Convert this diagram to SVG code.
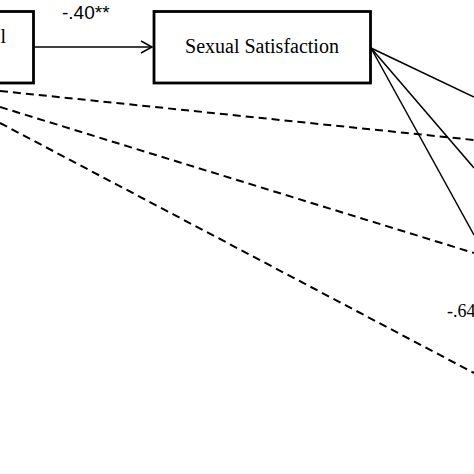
<svg xmlns="http://www.w3.org/2000/svg" width="474" height="474" viewBox="0 0 474 474">
<style>
.box{fill:#fff;stroke:#000;stroke-width:2.8}
.serif{font-family:"Liberation Serif","Times New Roman",serif;fill:#000}
.sans{font-family:"Liberation Sans",Arial,sans-serif;fill:#000}
.solid{stroke:#000;stroke-width:1.5;fill:none}
.dash{stroke:#000;stroke-width:2;fill:none;stroke-dasharray:8,5}
</style>
<defs>
<marker id="open" viewBox="0 0 14 14" refX="12" refY="7" markerWidth="14" markerHeight="14" markerUnits="userSpaceOnUse" orient="auto">
<path d="M1,1 L12,7 L1,13" fill="none" stroke="#000" stroke-width="1.5"/>
</marker>
</defs>
<rect width="474" height="474" fill="#fff"/>
<g id="connectors">
<line class="dash" x1="0" y1="91" x2="474" y2="140"/>
<line class="dash" x1="0" y1="107" x2="474" y2="253"/>
<line class="dash" x1="0" y1="123" x2="474" y2="373"/>
<line class="solid" x1="35" y1="47" x2="152" y2="47" marker-end="url(#open)"/>
<line class="solid" x1="371" y1="48" x2="474" y2="97"/>
<line class="solid" x1="371" y1="48" x2="474" y2="168"/>
<line class="solid" x1="371" y1="48" x2="474" y2="235"/>
</g>
<g id="node-left">
<rect class="box" x="-100" y="11.5" width="133.5" height="71.5"/>
<text class="serif" x="6" y="43" font-size="20" text-anchor="end">l</text>
</g>
<g id="node-sexual-satisfaction">
<rect class="box" x="154" y="11.5" width="216.5" height="71.5"/>
<text class="serif" x="262" y="53" font-size="20" text-anchor="middle">Sexual Satisfaction</text>
</g>
<g id="labels">
<text class="sans" x="62" y="19" font-size="19">-.40**</text>
<text class="serif" x="447" y="317" font-size="18">-.64</text>
</g>
</svg>
